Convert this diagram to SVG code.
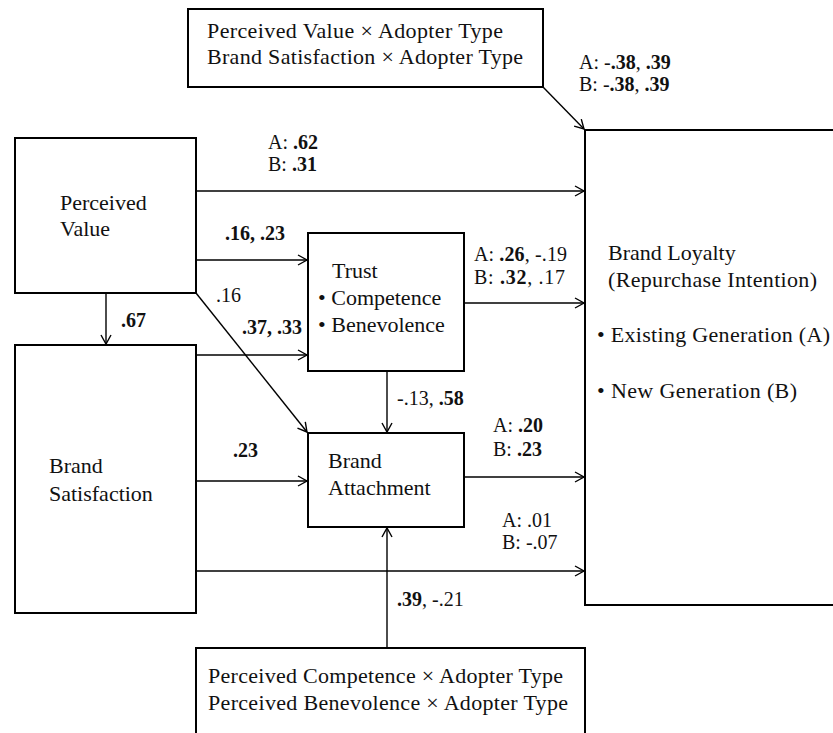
<svg xmlns="http://www.w3.org/2000/svg" width="833" height="733" viewBox="0 0 833 733">
<style>
.box{fill:#fff;stroke:#000;stroke-width:2}
.t{font-family:"Liberation Serif","Times New Roman",serif;font-size:22px;fill:#111}
.n{font-family:"Liberation Serif","Times New Roman",serif;font-size:20px;fill:#111}
.b{font-weight:bold}
.c{fill:none;stroke:#000;stroke-width:1.4}
</style>
<defs>
<marker id="ah" markerUnits="userSpaceOnUse" markerWidth="12" markerHeight="12" refX="10" refY="5" orient="auto" overflow="visible">
<path d="M1,0 L10,5 L1,10" fill="none" stroke="#000" stroke-width="1.4"/>
</marker>
</defs>
<rect width="833" height="733" fill="#fff"/>
<g id="connectors">
<path class="c" d="M543,87 L584,129" marker-end="url(#ah)"/>
<path class="c" d="M196,191 L584,191" marker-end="url(#ah)"/>
<path class="c" d="M196,260 L307,260" marker-end="url(#ah)"/>
<path class="c" d="M196,293 L307,432" marker-end="url(#ah)"/>
<path class="c" d="M106,293 L106,344" marker-end="url(#ah)"/>
<path class="c" d="M196,355 L307,355" marker-end="url(#ah)"/>
<path class="c" d="M196,481 L307,481" marker-end="url(#ah)"/>
<path class="c" d="M196,571 L584,571" marker-end="url(#ah)"/>
<path class="c" d="M464,303 L584,303" marker-end="url(#ah)"/>
<path class="c" d="M387,371 L387,432" marker-end="url(#ah)"/>
<path class="c" d="M464,477 L584,477" marker-end="url(#ah)"/>
<path class="c" d="M387,648 L387,528" marker-end="url(#ah)"/>
</g>
<g id="labels">
<text class="n" x="579" y="69">A: -<tspan class="b">.38</tspan>, <tspan class="b">.39</tspan></text>
<text class="n" x="579" y="91">B: -<tspan class="b">.38</tspan>, <tspan class="b">.39</tspan></text>
<text class="n" x="268" y="149">A: <tspan class="b">.62</tspan></text>
<text class="n" x="268" y="171">B: <tspan class="b">.31</tspan></text>
<text class="n b" x="225" y="240">.16, .23</text>
<text class="n" x="216" y="302">.16</text>
<text class="n b" x="121" y="327">.67</text>
<text class="n b" x="242" y="334">.37, .33</text>
<text class="n b" x="233" y="457">.23</text>
<text class="n" x="474" y="261" textLength="93" lengthAdjust="spacing">A: <tspan class="b">.26</tspan>, -.19</text>
<text class="n" x="474" y="284" textLength="91" lengthAdjust="spacing">B: <tspan class="b">.32</tspan>,  .17</text>
<text class="n" x="397" y="405">-.13, <tspan class="b">.58</tspan></text>
<text class="n" x="493" y="432">A: <tspan class="b">.20</tspan></text>
<text class="n" x="493" y="456">B: <tspan class="b">.23</tspan></text>
<text class="n" x="502" y="527">A: .01</text>
<text class="n" x="502" y="549">B: -.07</text>
<text class="n" x="397" y="606"><tspan class="b">.39</tspan>, -.21</text>
</g>
<g id="moderator-top">
<rect class="box" x="188" y="9" width="355" height="78"/>
<text class="t" x="207" y="38" textLength="296" lengthAdjust="spacing">Perceived Value × Adopter Type</text>
<text class="t" x="207" y="64" textLength="316" lengthAdjust="spacing">Brand Satisfaction × Adopter Type</text>
</g>
<g id="perceived-value">
<rect class="box" x="15" y="138" width="181" height="155"/>
<text class="t" x="60" y="210">Perceived</text>
<text class="t" x="60" y="236">Value</text>
</g>
<g id="brand-satisfaction">
<rect class="box" x="15" y="345" width="181" height="268"/>
<text class="t" x="49" y="473">Brand</text>
<text class="t" x="49" y="501">Satisfaction</text>
</g>
<g id="trust">
<rect class="box" x="308" y="233" width="156" height="138"/>
<text class="t" x="332" y="278">Trust</text>
<text class="t" x="318" y="305">• Competence</text>
<text class="t" x="318" y="332">• Benevolence</text>
</g>
<g id="brand-attachment">
<rect class="box" x="308" y="433" width="156" height="94"/>
<text class="t" x="328" y="468">Brand</text>
<text class="t" x="328" y="495">Attachment</text>
</g>
<g id="brand-loyalty">
<rect class="box" x="585" y="130" width="260" height="475"/>
<text class="t" x="608" y="260">Brand Loyalty</text>
<text class="t" x="608" y="287" textLength="209" lengthAdjust="spacing">(Repurchase Intention)</text>
<text class="t" x="597" y="342" textLength="233" lengthAdjust="spacing">• Existing Generation (A)</text>
<text class="t" x="597" y="398" textLength="200" lengthAdjust="spacing">• New Generation (B)</text>
</g>
<g id="moderator-bottom">
<rect class="box" x="196" y="648" width="389" height="100"/>
<text class="t" x="208" y="683" textLength="355" lengthAdjust="spacing">Perceived Competence × Adopter Type</text>
<text class="t" x="208" y="710" textLength="360" lengthAdjust="spacing">Perceived Benevolence × Adopter Type</text>
</g>
</svg>
